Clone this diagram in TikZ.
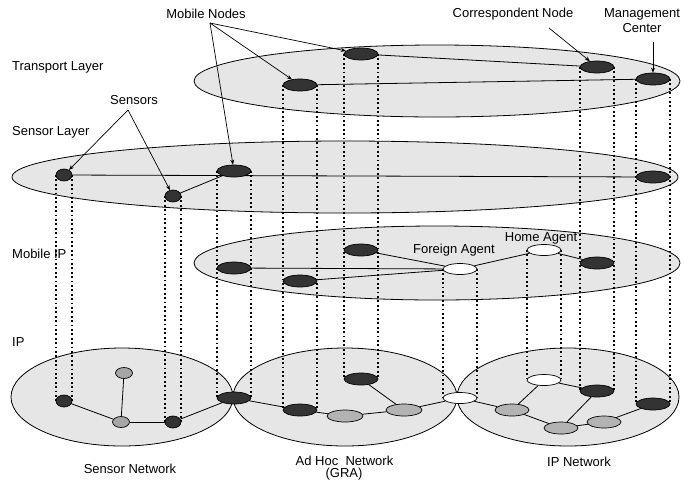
\documentclass[tikz,border=0pt]{standalone}
\usepackage{fontspec}
\setmainfont{Liberation Sans}
\usetikzlibrary{shapes.geometric,arrows.meta}
\pgfdeclarelayer{bg}
\pgfdeclarelayer{mid}
\pgfsetlayers{bg,mid,main}
\definecolor{layerfill}{HTML}{E6E6E6}
\definecolor{darkn}{HTML}{333333}
\definecolor{grayn}{HTML}{B3B3B3}
\definecolor{sgrayn}{HTML}{A6A6A6}
\begin{document}
\begin{tikzpicture}[x=1pt,y=-1pt,
 every node/.style={font=\fontsize{13}{15}\selectfont},
 nd/.style={ellipse, draw=black, line width=0.7pt, inner sep=0pt},
 dk/.style={nd, fill=darkn, minimum width=34pt, minimum height=12pt},
 sdk/.style={nd, fill=darkn, minimum width=16pt, minimum height=12pt},
 wh/.style={nd, fill=white, minimum width=34pt, minimum height=11pt},
 gr/.style={nd, fill=grayn, minimum width=36pt, minimum height=12pt},
 ipgr/.style={nd, fill=grayn, minimum width=34pt, minimum height=12pt},
 sgr/.style={nd, fill=sgrayn, minimum width=17pt, minimum height=11pt},
 lay/.style={draw=black, line width=0.8pt, fill=layerfill},
 edge/.style={line width=0.8pt},
 vdot/.style={line width=1.8pt, dash pattern=on 1.8pt off 2.6pt},
 arr/.style={line width=0.7pt, -{Stealth[length=5pt,width=4pt]}},
 lbl/.style={inner sep=0pt}]
\useasboundingbox (0,0) rectangle (684,483);

% layer ellipses
\begin{pgfonlayer}{bg}
\draw[lay] (437,81) ellipse [x radius=243pt, y radius=36pt];
\draw[lay] (345,177) ellipse [x radius=333pt, y radius=36pt];
\draw[lay] (437,263) ellipse [x radius=243pt, y radius=37pt];
\draw[lay] (122,397) ellipse [x radius=111pt, y radius=49pt];
\draw[lay] (345,397) ellipse [x radius=112pt, y radius=49pt];
\draw[lay] (568,397) ellipse [x radius=111pt, y radius=49pt];
\end{pgfonlayer}

% transport layer
\node[dk] (tn1) at (300,85) {};
\node[dk] (tn2) at (361,54) {};
\node[dk] (cn) at (597,67) {};
\node[dk] (tm) at (653,79) {};
% sensor layer
\node[sdk] (s1) at (64,175) {};
\node[sdk] (s2) at (173,196) {};
\node[dk] (mnode) at (234,171) {};
\node[dk] (sm) at (653,177) {};
% mobile IP
\node[dk] (ma) at (234,268) {};
\node[dk] (mb) at (300,281) {};
\node[dk] (mc) at (361,250) {};
\node[wh] (fa) at (460,269) {};
\node[wh] (ha) at (544,250) {};
\node[dk] (md) at (597,263) {};
% sensor network
\node[sdk] (s1b) at (64,401) {};
\node[sgr] (sg1) at (124,373) {};
\node[sgr] (sg2) at (121,422) {};
\node[sdk] (s2b) at (173,422) {};
\node[dk] (gw) at (234,398) {};
% ad hoc network
\node[dk] (d1) at (300,410) {};
\node[dk] (d2) at (361,379) {};
\node[gr] (g1) at (345,416) {};
\node[gr] (g2) at (404,410) {};
\node[wh] (fab) at (460,398) {};
% IP network
\node[wh] (hab) at (544,380) {};
\node[dk] (dd) at (597,391) {};
\node[dk] (im) at (653,404) {};
\node[ipgr] (g3) at (512,410) {};
\node[ipgr] (g4) at (561,428) {};
\node[ipgr] (g5) at (604,422) {};

% labels
\node[lbl, anchor=west] (tl) at (12,67) {Transport Layer};
\node[lbl, anchor=west] (sl) at (12,132) {Sensor Layer};
\node[lbl, anchor=west] (mipl) at (12,254) {Mobile IP};
\node[lbl, anchor=west] (ipl) at (12,342) {IP};
\node[lbl] (mnl) at (206,14) {Mobile Nodes};
\node[lbl] (snl) at (134,100) {Sensors};
\node[lbl] (cnl) at (513,14) {Correspondent Node};
\node[lbl, align=center] (mcl) at (642,21) {Management\\Center};
\node[lbl] (fal) at (454,250) {Foreign Agent};
\node[lbl] (hal) at (541,238) {Home Agent};
\node[lbl] (snet) at (130,469) {Sensor Network};
\node[lbl] (ahnet) at (344.5,461) {Ad Hoc\ \ Network};
\node[lbl] (gra) at (344,474) {(GRA)};
\node[lbl] (ipnet) at (579,462) {IP Network};

\coordinate (mno) at (210,23);
\coordinate (sno) at (128,110);
\coordinate (cno) at (549,28);
\coordinate (mco) at (653,42);

\begin{pgfonlayer}{mid}
% vertical dotted projections
\foreach \a/\b in {s1/s1b, s2/s2b, mnode/gw, tn1/d1, tn2/d2, fa/fab, ha/hab, cn/dd, tm/im}{
  \draw[vdot] (\a.west) -- (\b.west);
  \draw[vdot] (\a.east) -- (\b.east);
}
% transport edges
\draw[edge] (tn2) -- (cn);
\draw[edge] (tn1) -- (tm);
% sensor layer edges
\draw[edge] (s1) -- (sm);
\draw[edge] (s2) -- (mnode);
% mobile IP edges
\draw[edge] (ma) -- (fa);
\draw[edge] (mb) -- (fa);
\draw[edge] (mc) -- (fa);
\draw[edge] (fa) -- (ha);
\draw[edge] (ha) -- (md);
% sensor network edges
\draw[edge] (s1b) -- (sg2);
\draw[edge] (sg1) -- (sg2);
\draw[edge] (sg2) -- (s2b);
\draw[edge] (s2b) -- (gw);
% ad hoc edges
\draw[edge] (gw) -- (d1);
\draw[edge] (d1) -- (g1);
\draw[edge] (g1) -- (g2);
\draw[edge] (d2) -- (g2);
\draw[edge] (g2) -- (fab);
% IP network edges
\draw[edge] (fab) -- (g3);
\draw[edge] (g3) -- (hab);
\draw[edge] (g3) -- (g4);
\draw[edge] (hab) -- (dd);
\draw[edge] (dd) -- (g4);
\draw[edge] (g4) -- (g5);
\draw[edge] (g5) -- (im);
% label arrows
\draw[arr] (mno) -- (tn2);
\draw[arr] (mno) -- (tn1);
\draw[arr] (mno) -- (mnode);
\draw[arr] (sno) -- (s1);
\draw[arr] (sno) -- (s2);
\draw[arr] (cno) -- (cn);
\draw[arr] (mco) -- (tm);
\end{pgfonlayer}
\end{tikzpicture}
\end{document}
